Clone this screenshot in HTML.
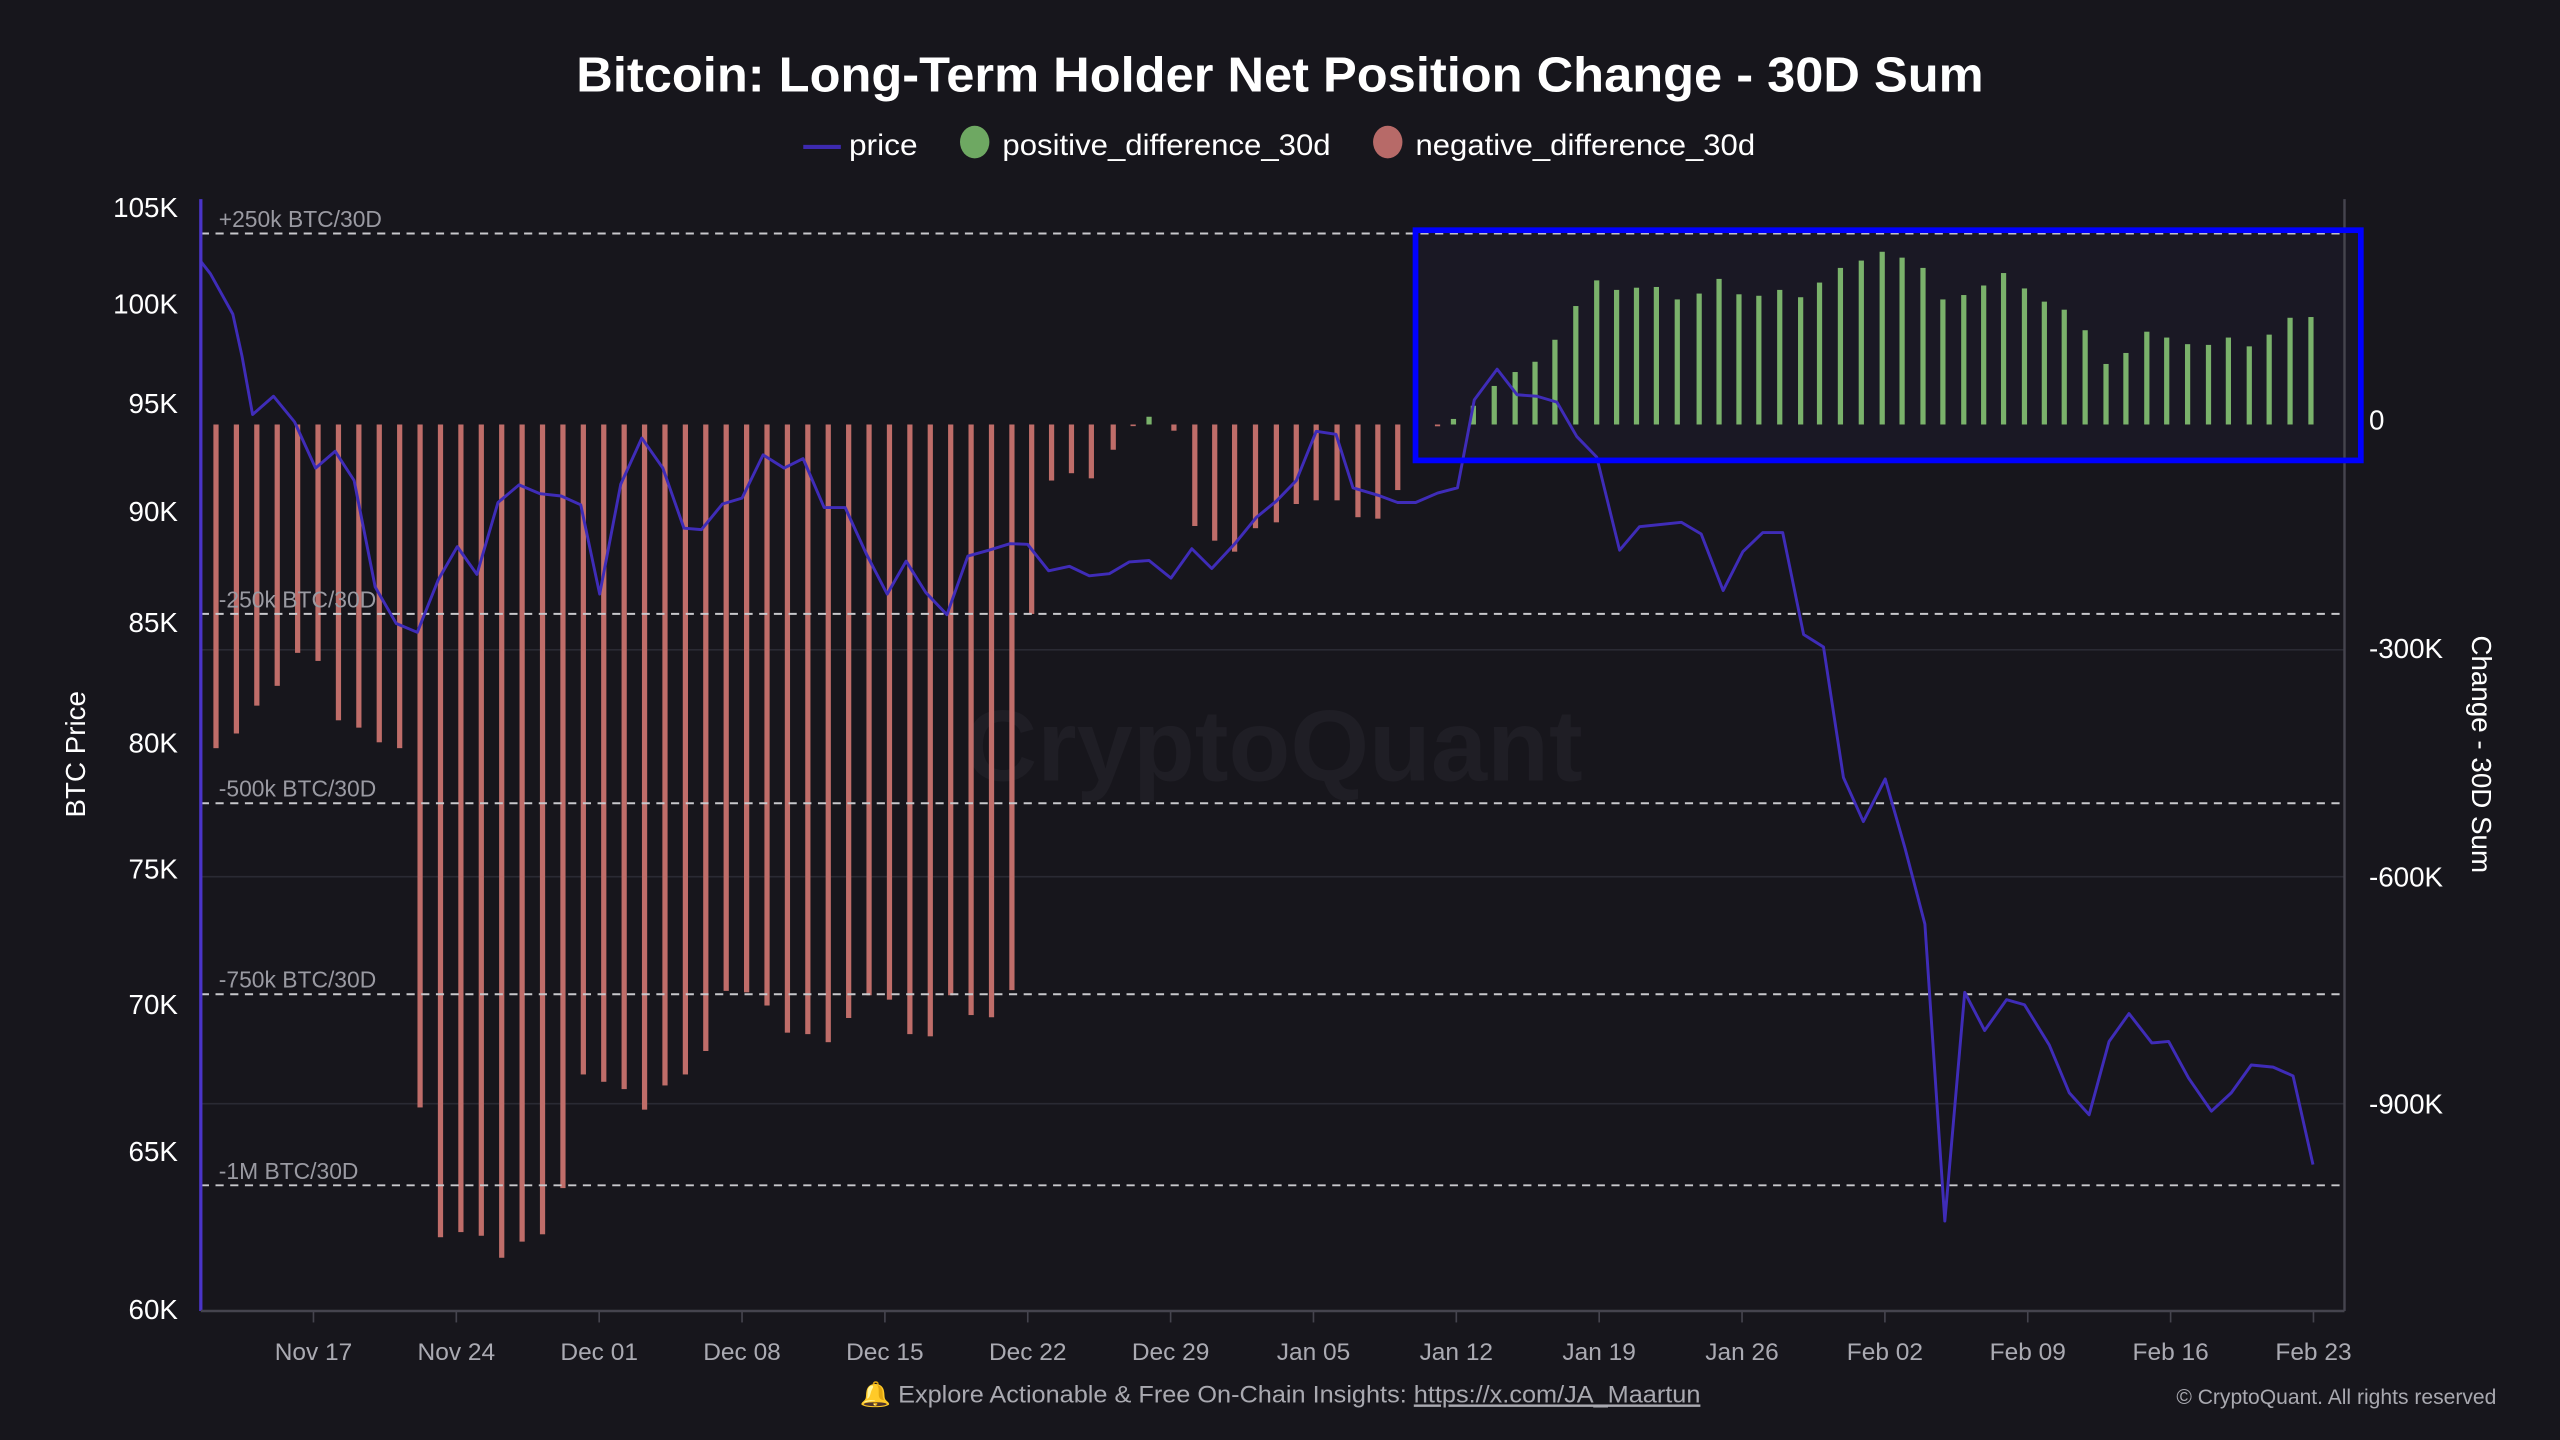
<!DOCTYPE html>
<html><head><meta charset="utf-8"><style>
html,body{margin:0;padding:0;background:#17161c;width:2560px;height:1440px;overflow:hidden}
svg{display:block}
text{font-family:"Liberation Sans",sans-serif}
</style></head><body>
<svg id="s" width="2560" height="1440" viewBox="0 0 1568 882" xmlns="http://www.w3.org/2000/svg">
<rect width="1568" height="882" fill="#17161c"/>
<text x="784" y="56" text-anchor="middle" fill="#fff" font-size="30" font-weight="bold" textLength="862" lengthAdjust="spacingAndGlyphs">Bitcoin: Long-Term Holder Net Position Change - 30D Sum</text>
<line x1="492" y1="90" x2="515" y2="90" stroke="#3d2ab0" stroke-width="2.5"/>
<text x="520" y="95" fill="#fff" font-size="18" textLength="42" lengthAdjust="spacingAndGlyphs">price</text>
<ellipse cx="597" cy="87" rx="9" ry="10" fill="#6ea862"/>
<text x="614" y="95" fill="#fff" font-size="18" textLength="201" lengthAdjust="spacingAndGlyphs">positive_difference_30d</text>
<ellipse cx="850" cy="87" rx="9" ry="10" fill="#b76a68"/>
<text x="867" y="95" fill="#fff" font-size="18" textLength="208" lengthAdjust="spacingAndGlyphs">negative_difference_30d</text>
<text x="780" y="478" text-anchor="middle" fill="#1f1e25" font-size="62" font-weight="bold">CryptoQuant</text>
<rect x="867" y="141" width="579" height="141" fill="#1c1b2a" fill-opacity="0.6"/>
<g id="g"></g>
<text transform="translate(52,462) rotate(-90)" text-anchor="middle" fill="#fff" font-size="17">BTC Price</text>
<text transform="translate(1514,462) rotate(90)" text-anchor="middle" fill="#fff" font-size="17">Change - 30D Sum</text>
<text x="784" y="859" text-anchor="middle" fill="#a9a9b0" font-size="15" textLength="515" lengthAdjust="spacingAndGlyphs">🔔 Explore Actionable &amp; Free On-Chain Insights: <tspan text-decoration="underline">https://x.com/JA_Maartun</tspan></text>
<text x="1529" y="860" text-anchor="end" fill="#a9a9b0" font-size="13" textLength="196" lengthAdjust="spacingAndGlyphs">© CryptoQuant. All rights reserved</text>
</svg>
<script>
var g=document.getElementById('g'),h='';
function Y(py){return py*0.4491+110.2}
[398,537,676].forEach(function(y){h+='<line x1="123" y1="'+y+'" x2="1436" y2="'+y+'" stroke="#2a2a33" stroke-width="1"/>'});
var b1=[775,755,717,690,645,656,737,747,767,775,1265,1442,1435,1440,1470,1448,1438,1375,1220,1230,1240,1268,1235,1220,1188,1106,1108,1126,1163,1165,1176,1143,1112,1118,1165,1168,1112,1139,1142,1105];
b1.forEach(function(py,i){var x=132.3+i*12.5;h+='<rect x="'+(x-1.6)+'" y="260" width="3.2" height="'+(Y(py)-260)+'" fill="#bf6d69"/>'});
var b2=[[32,592],[52,410],[72,400],[92,407],[114,368],[134,333],[175,342],[196,472],[216,492],[236,507],[257,475],[278,467],[298,442],[318,437],[339,437],[360,460],[380,462],[400,423],[440,336]];
b2.forEach(function(p){var x=p[0]*0.6093+612.4,y=Y(p[1]);h+='<rect x="'+(x-1.6)+'" y="260" width="3.2" height="'+Math.max(1,y-260)+'" fill="#bf6d69"/>'});
var gr=[[150,323],[456,326],[476,308],[497,281],[518,262],[538,248],[558,218],[579,172],[600,137],[620,150],[640,147],[660,146],[681,163],[703,155],[723,135],[743,156],[763,158],[784,150],[805,160],[824,140],[845,120],[866,110],[887,98],[907,106],[928,120],[948,163],[969,157],[989,144],[1009,127],[1030,148],[1050,166],[1070,177],[1091,205],[1112,251],[1132,236],[1153,207],[1173,215],[1194,224],[1215,225],[1235,215],[1256,227],[1276,211],[1297,188],[1318,187]];
gr.forEach(function(p){var x=p[0]*0.6093+612.4,y=Y(p[1]);h+='<rect x="'+(x-1.6)+'" y="'+y+'" width="3.2" height="'+Math.max(1,260-y)+'" fill="#7ab26b"/>'});
[[143,'+250k BTC/30D'],[376,'-250k BTC/30D'],[492,'-500k BTC/30D'],[609,'-750k BTC/30D'],[726,'-1M BTC/30D']].forEach(function(d){
h+='<line x1="123" y1="'+d[0]+'" x2="1436" y2="'+d[0]+'" stroke="#c8c8cc" stroke-width="1.2" stroke-dasharray="5,4"/>';
h+='<text x="134" y="'+(d[0]-4)+'" fill="#9a9aa2" font-size="14">'+d[1]+'</text>'});
var p1=[[287,112],[300,128],[332,183],[345,240],[360,320],[390,295],[420,330],[450,393],[478,370],[505,410],[535,555],[565,605],[595,617],[625,545],[652,500],[680,538],[710,440],[740,416],[770,428],[800,431],[828,443],[855,565],[885,415],[915,352],[945,393],[975,475],[1000,477],[1030,442],[1058,434],[1088,375],[1118,393],[1145,380],[1175,447],[1205,447],[1235,510],[1265,565],[1292,520],[1320,563],[1350,593],[1380,513],[1410,505],[1440,496],[1465,497],[1495,533],[1525,527]];
var p2=[[70,527],[90,540],[110,537],[130,521],[150,519],[172,543],[193,503],[213,530],[237,495],[258,460],[278,438],[298,410],[318,343],[338,347],[355,420],[380,430],[400,440],[418,440],[440,427],[460,420],[477,300],[500,258],[520,293],[540,295],[560,303],[580,350],[600,378],[623,505],[643,473],[685,467],[705,483],[727,560],[747,507],[767,481],[787,481],[808,620],[828,637],[848,815],[868,875],[890,817],[910,912],[930,1015],[950,1420],[970,1108],[990,1160],[1012,1118],[1030,1125],[1055,1180],[1075,1245],[1095,1275],[1115,1175],[1135,1137],[1158,1177],[1175,1175],[1195,1225],[1218,1270],[1238,1245],[1258,1207],[1280,1210],[1300,1222],[1320,1343]];
var pts=p1.map(function(p){return (p[0]*0.4296).toFixed(1)+','+Y(p[1]).toFixed(1)}).concat(p2.map(function(p){return (p[0]*0.6093+612.4).toFixed(1)+','+Y(p[1]).toFixed(1)}));
h+='<polyline points="'+pts.join(' ')+'" fill="none" stroke="#3f2cb8" stroke-width="1.8" stroke-linejoin="round"/>';
h+='<line x1="123" y1="122" x2="123" y2="803" stroke="#4a34c8" stroke-width="2"/>';
h+='<line x1="1436" y1="122" x2="1436" y2="803" stroke="#45444e" stroke-width="1.5"/>';
h+='<line x1="123" y1="803" x2="1436" y2="803" stroke="#45444e" stroke-width="1.5"/>';
[['105K',127],['100K',186],['95K',247],['90K',313],['85K',381],['80K',455],['75K',532],['70K',615],['65K',705],['60K',802]].forEach(function(l){h+='<text x="109" y="'+(l[1]+6)+'" text-anchor="end" fill="#fff" font-size="17">'+l[0]+'</text>'});
[['0',257],['-300K',397],['-600K',537],['-900K',676]].forEach(function(l){h+='<text x="1451" y="'+(l[1]+6)+'" fill="#fff" font-size="17">'+l[0]+'</text>'});
['Nov 17','Nov 24','Dec 01','Dec 08','Dec 15','Dec 22','Dec 29','Jan 05','Jan 12','Jan 19','Jan 26','Feb 02','Feb 09','Feb 16','Feb 23'].forEach(function(t,i){var x=192+i*87.5;
h+='<line x1="'+x+'" y1="803" x2="'+x+'" y2="810" stroke="#45444e"/>';
h+='<text x="'+x+'" y="833" text-anchor="middle" fill="#aaaab2" font-size="15">'+t+'</text>'});
h+='<rect x="867" y="141" width="579" height="141" fill="none" stroke="#0000ff" stroke-width="3.5"/>';
g.innerHTML=h;
</script>
</body></html>
